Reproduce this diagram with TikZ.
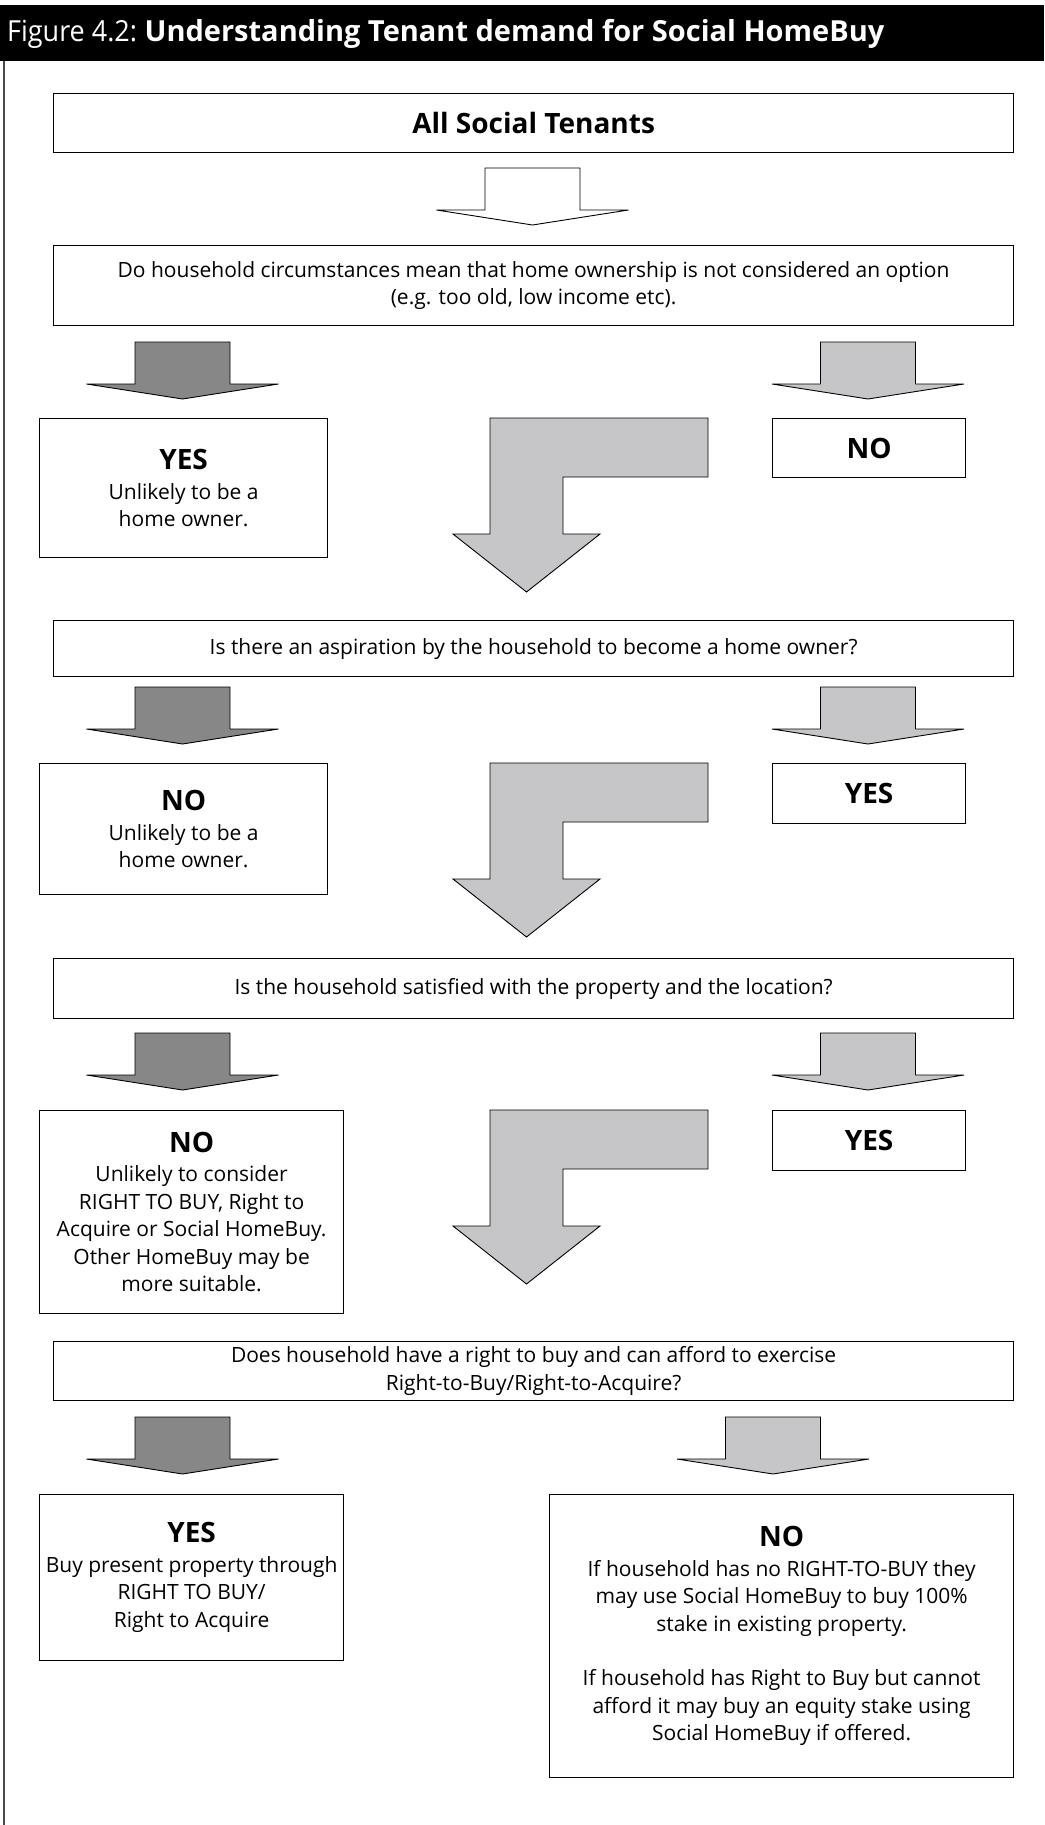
\documentclass[tikz,border=0pt]{standalone}
\usepackage{fontspec}
\setmainfont{Open Sans}
\usetikzlibrary{calc}
\definecolor{hbDark}{HTML}{878787}
\definecolor{hbLight}{HTML}{C6C6C8}
\definecolor{hbFrame}{HTML}{4A4A4A}
\newcommand{\hbbody}{\fontsize{21}{27.5}\selectfont}
\newcommand{\hbhead}{\fontsize{28}{31}\selectfont\bfseries}
\tikzset{
  hbbox/.style={
    draw=black, line width=1.2pt, fill=white, anchor=north west,
    inner sep=0pt, align=center, font=\hbbody
  },
  qbox/.style={hbbox, minimum width=960pt},
  ansbox/.style={hbbox},
  titleband/.style={fill=black, draw=none},
  frameline/.style={line width=1.5pt, hbFrame},
  fatarrow/.pic={
    \filldraw[fill=#1, draw=black, line width=0.9pt]
      (-47.5,0) -- (47.5,0) -- (47.5,42) -- (96,42) -- (0,57)
      -- (-96,42) -- (-47.5,42) -- cycle;
  },
  bendarrow/.pic={
    \filldraw[fill=hbLight, draw=black, line width=0.9pt]
      (0,0) -- (218,0) -- (218,59) -- (73,59) -- (73,116) -- (110,116)
      -- (36.5,174) -- (-37,116) -- (0,116) -- cycle;
  }
}

\begin{document}
\begin{tikzpicture}[x=1pt, y=-1pt]
  \useasboundingbox (0,0) rectangle (1044,1825);
  \fill[titleband] (0,5) rectangle (1044,61);
  \draw[frameline] (4,61) -- (4,1825);
  \node[anchor=west, text=white, font=\fontsize{29}{34}\selectfont, inner sep=0pt] (title) at (7,34)
    {\scalebox{0.93}[1]{Figure 4.2:} \textbf{Understanding Tenant demand for Social HomeBuy}};

  \node[qbox, minimum height=59pt, font=\hbhead] (tenants) at (53,93) {All Social Tenants};
  \pic at (532.5,168) {fatarrow=white};

  \node[qbox, minimum height=80pt] (qCircs) at (53,245)
    {Do household circumstances mean that home ownership is not considered an option\\(e.g. too old, low income etc).};
  \pic at (182.5,342) {fatarrow=hbDark};
  \pic at (868,342) {fatarrow=hbLight};
  \node[ansbox, minimum width=288pt, minimum height=139pt] (aOldYes) at (39,418)
    {{\hbhead YES}\\[2pt]Unlikely to be a\\home owner.};
  \node[ansbox, minimum width=193pt, minimum height=59pt, font=\hbhead] (aOldNo) at (772,418) {NO};
  \pic at (490,418) {bendarrow};

  \node[qbox, minimum height=56pt] (qAspire) at (53,620)
    {Is there an aspiration by the household to become a home owner?};
  \pic at (182.5,687) {fatarrow=hbDark};
  \pic at (868,687) {fatarrow=hbLight};
  \node[ansbox, minimum width=288pt, minimum height=131pt] (aAspNo) at (39,763)
    {{\hbhead NO}\\[2pt]Unlikely to be a\\home owner.};
  \node[ansbox, minimum width=193pt, minimum height=60pt, font=\hbhead] (aAspYes) at (772,763) {YES};
  \pic at (490,763) {bendarrow};

  \node[qbox, minimum height=60pt] (qSatisfied) at (53,958)
    {Is the household satisfied with the property and the location?};
  \pic at (182.5,1033) {fatarrow=hbDark};
  \pic at (868,1033) {fatarrow=hbLight};
  \node[ansbox, minimum width=304pt, minimum height=203pt] (aSatNo) at (39,1110)
    {{\hbhead NO}\\[2pt]Unlikely to consider\\RIGHT TO BUY, Right to\\Acquire or Social HomeBuy.\\Other HomeBuy may be\\more suitable.};
  \node[ansbox, minimum width=193pt, minimum height=60pt, font=\hbhead] (aSatYes) at (772,1110) {YES};
  \pic at (490,1110) {bendarrow};

  \node[qbox, minimum height=59pt] (qAfford) at (53,1341)
    {Does household have a right to buy and can afford to exercise\\Right-to-Buy/Right-to-Acquire?};
  \pic at (182.5,1417) {fatarrow=hbDark};
  \pic at (773,1417) {fatarrow=hbLight};
  \node[ansbox, minimum width=304pt, minimum height=166pt] (aAffYes) at (39,1494)
    {{\hbhead YES}\\[2pt]Buy present property through\\RIGHT TO BUY/\\Right to Acquire};
  \node[ansbox, minimum width=464pt, minimum height=283pt] (aAffNo) at (549,1494)
    {{\hbhead NO}\\[2pt]If household has no RIGHT-TO-BUY they\\may use Social HomeBuy to buy 100\%\\stake in existing property.\\[27pt]If household has Right to Buy but cannot\\afford it may buy an equity stake using\\Social HomeBuy if offered.};
\end{tikzpicture}
\end{document}
